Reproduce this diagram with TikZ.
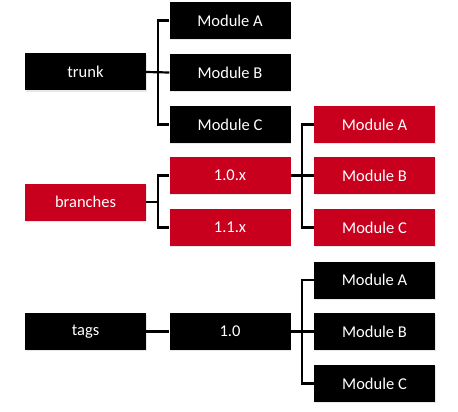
\documentclass[tikz,border=0pt]{standalone}
\usepackage{fontspec}
\setmainfont{Carlito}
\usetikzlibrary{calc,shadows}
\definecolor{svnred}{RGB}{200,0,30}
\tikzset{
  modbox/.style={minimum width=121pt, minimum height=37pt, inner sep=0pt,
    text=white, font=\fontsize{16.5}{19}\selectfont,
    drop shadow={opacity=0.18, shadow xshift=0.8pt, shadow yshift=-1.2pt}},
  blackbox/.style={modbox, fill=black},
  redbox/.style={modbox, fill=svnred},
  link/.style={draw=black, line width=2.2pt}
}
\begin{document}
\begin{tikzpicture}[x=1pt,y=-1pt]
          \useasboundingbox[fill=white] (0,0) rectangle (458,412);
          % trunk
          \node[blackbox] (trunk) at (85.5,72) {trunk};
          \node[blackbox] (tA) at (230,20.5) {Module A};
          \node[blackbox] (tB) at (230,72.5) {Module B};
          \node[blackbox] (tC) at (230,124.5) {Module C};
          % branches
          \node[redbox] (branches) at (85.5,202) {branches};
          \node[redbox] (b10) at (230,175.5) {1.0.x};
          \node[redbox] (b11) at (230,227.5) {1.1.x};
          \node[redbox] (bA) at (374.5,124.5) {Module A};
          \node[redbox] (bB) at (374.5,175.5) {Module B};
          \node[redbox] (bC) at (374.5,227.5) {Module C};
          % tags
          \node[blackbox] (tags) at (85.5,331.5) {tags};
          \node[blackbox] (g10) at (230,331.5) {1.0};
          \node[blackbox] (gA) at (374.5,280) {Module A};
          \node[blackbox] (gB) at (374.5,331.5) {Module B};
          \node[blackbox] (gC) at (374.5,383.5) {Module C};
          % junctions
          \coordinate (tj) at ($(trunk.east)!0.5!(tB.west)$);
          \coordinate (bj) at ($(branches.east)!0.5!(branches.east -| b10.west)$);
          \coordinate (vj) at ($(b10.east)!0.5!(bB.west)$);
          \coordinate (gj) at ($(g10.east)!0.5!(gB.west)$);
          % connectors
          \draw[link] (trunk.east) -- (tB.west);
          \draw[link] (tA.west) -| (tj) |- (tC.west);
          \draw[link] (branches.east) -- (bj);
          \draw[link] (b10.west) -| (bj) |- (b11.west);
          \draw[link] (b10.east) -- (bB.west);
          \draw[link] (bA.west) -| (vj) |- (bC.west);
          \draw[link] (tags.east) -- (g10.west);
          \draw[link] (g10.east) -- (gB.west);
          \draw[link] (gA.west) -| (gj) |- (gC.west);
        \end{tikzpicture}
\end{document}
